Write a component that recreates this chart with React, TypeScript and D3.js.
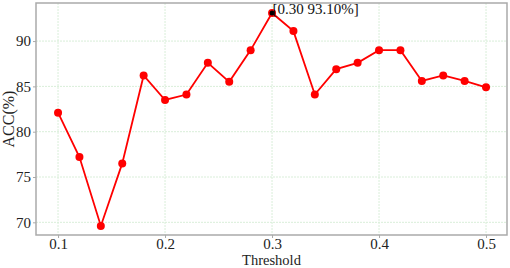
import React, { useEffect, useRef } from "react";
import * as d3 from "d3";

const thresholds = [0.1, 0.12, 0.14, 0.16, 0.18, 0.2, 0.22, 0.24, 0.26, 0.28, 0.3, 0.32, 0.34, 0.36, 0.38, 0.4, 0.42, 0.44, 0.46, 0.48, 0.5];
const acc = [82.1, 77.2, 69.6, 76.5, 86.2, 83.5, 84.1, 87.6, 85.5, 89.0, 93.1, 91.1, 84.1, 86.9, 87.6, 89.0, 89.0, 85.6, 86.2, 85.6, 84.9];
const xTicks = [0.1, 0.2, 0.3, 0.4, 0.5];
const yTicks = [70, 75, 80, 85, 90];
const peakLabel = "[0.30 93.10%]";

const W = 510;
const H = 268;
const margin = { left: 36, right: 3, top: 3, bottom: 33 };
const font = "'Liberation Serif', 'Times New Roman', serif";

function Chart() {
  const svgRef = useRef<SVGSVGElement>(null);

  useEffect(() => {
    const svg = d3.select(svgRef.current);
    svg.selectAll("*").remove();

    const x = d3.scaleLinear().domain([0.0794, 0.5196]).range([margin.left, W - margin.right]);
    const y = d3.scaleLinear().domain([68.6, 94.2]).range([H - margin.bottom, margin.top]);

    const grid = svg.append("g");
    grid
      .selectAll("line.gx")
      .data(xTicks)
      .enter()
      .append("line")
      .attr("x1", d => x(d))
      .attr("x2", d => x(d))
      .attr("y1", margin.top)
      .attr("y2", H - margin.bottom)
      .attr("stroke", "#d9eed9")
      .attr("stroke-dasharray", "2,1");
    grid
      .selectAll("line.gy")
      .data(yTicks)
      .enter()
      .append("line")
      .attr("y1", d => y(d))
      .attr("y2", d => y(d))
      .attr("x1", margin.left)
      .attr("x2", W - margin.right)
      .attr("stroke", "#d9eed9")
      .attr("stroke-dasharray", "2,1");

    // frame
    svg
      .append("rect")
      .attr("x", margin.left)
      .attr("y", margin.top)
      .attr("width", W - margin.left - margin.right)
      .attr("height", H - margin.top - margin.bottom)
      .attr("fill", "none")
      .attr("stroke", "#aaa")
      .attr("stroke-width", 1.5);

    const xAxis = svg
      .append("g")
      .attr("transform", `translate(0, ${H - margin.bottom})`)
      .call(d3.axisBottom(x).tickValues(xTicks).tickFormat(d3.format(".1f")).tickSize(3).tickPadding(0));
    const yAxis = svg
      .append("g")
      .attr("transform", `translate(${margin.left}, 0)`)
      .call(d3.axisLeft(y).tickValues(yTicks).tickSize(3).tickPadding(2));
    [xAxis, yAxis].forEach(a => {
      a.select(".domain").remove();
      a.selectAll("line").attr("stroke", "#aaa");
      a.selectAll("text").attr("font-family", font).attr("font-size", 15).attr("fill", "#222");
    });

    const line = d3
      .line<number>()
      .x((d, i) => x(thresholds[i]))
      .y(d => y(d));
    svg
      .append("path")
      .datum(acc)
      .attr("d", line)
      .attr("fill", "none")
      .attr("stroke", "#ff0000")
      .attr("stroke-width", 1.8);

    svg
      .selectAll("circle.pt")
      .data(acc)
      .enter()
      .append("circle")
      .attr("cx", (d, i) => x(thresholds[i]))
      .attr("cy", d => y(d))
      .attr("r", 4)
      .attr("fill", "#ff0000");

    const peak = acc.indexOf(d3.max(acc) as number);
    svg
      .append("circle")
      .attr("cx", x(thresholds[peak]))
      .attr("cy", y(acc[peak]))
      .attr("r", 2.5)
      .attr("fill", "#000");
    svg
      .append("text")
      .attr("x", x(thresholds[peak]) + 0.5)
      .attr("y", y(acc[peak]) + 1)
      .attr("font-family", font)
      .attr("font-size", 15)
      .attr("fill", "#111")
      .text(peakLabel);

    svg
      .append("text")
      .attr("x", (margin.left + W - margin.right) / 2)
      .attr("y", H - 3.3)
      .attr("text-anchor", "middle")
      .attr("font-family", font)
      .attr("font-size", 14.5)
      .attr("fill", "#222")
      .text("Threshold");
    svg
      .append("text")
      .attr("transform", `translate(14, ${(margin.top + H - margin.bottom) / 2}) rotate(-90)`)
      .attr("text-anchor", "middle")
      .attr("font-family", font)
      .attr("font-size", 16)
      .attr("fill", "#222")
      .text("ACC(%)");
  }, []);

  return <svg ref={svgRef} width={W} height={H} style={{ display: "block", background: "#fff" }} />;
}

export default function App() {
  return (
    <div style={{ position: "absolute", left: 0, top: 0 }}>
      <Chart />
    </div>
  );
}
